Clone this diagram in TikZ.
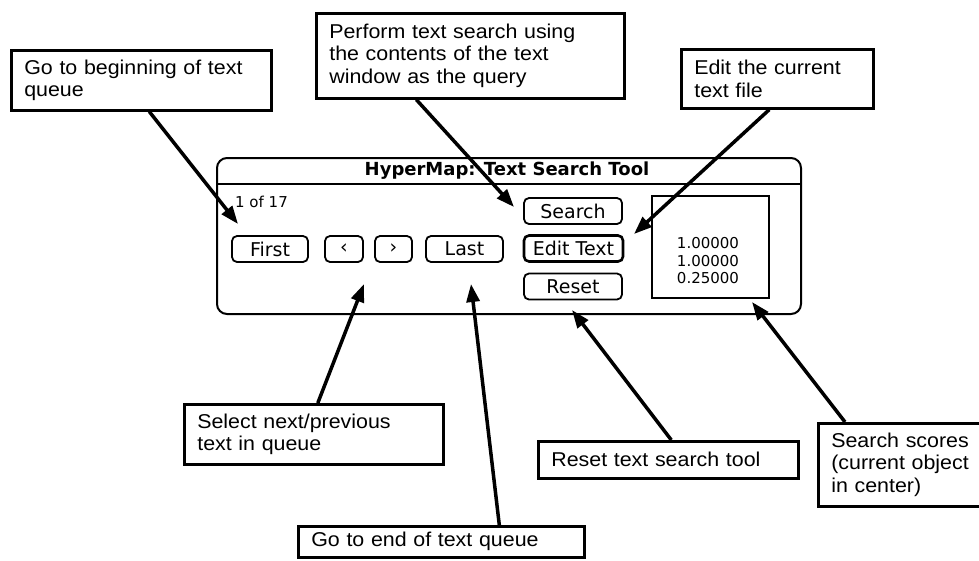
\documentclass[tikz,border=0pt]{standalone}
\usepackage{fontspec}
\setmainfont{Liberation Sans}[FakeStretch=1.07]
\newfontfamily\macfont{DejaVu Sans}
\usetikzlibrary{arrows.meta}

\begin{document}
\begin{tikzpicture}[
        x=1pt, y=-1pt,
        callout/.style={draw, rectangle, line width=2.6pt, anchor=north west, align=left,
            inner xsep=13pt, inner ysep=3pt, font=\fontsize{20}{22.5}\selectfont},
        button/.style={draw, rounded corners=5pt, line width=1.8pt, minimum height=26pt,
            inner sep=2pt, font=\macfont\fontsize{19}{22}\selectfont},
        pointer/.style={draw, -{Triangle[length=18pt,width=13pt]}, line width=3.5pt}
    ]
        \useasboundingbox (0,0) rectangle (979,560);

        % Window
        \node (win) [draw, rounded corners=10pt, line width=2pt, anchor=north west,
            minimum width=584pt, minimum height=156pt] at (216,157) {};
        \draw[line width=2pt] (216,184) -- (800,184);
        \node (title) [font=\macfont\bfseries\fontsize{18}{20}\selectfont] at (507,171) {HyperMap: Text Search Tool};
        \node (count) [anchor=west, inner sep=0pt, font=\macfont\fontsize{15}{18}\selectfont] at (235,202) {1 of 17};

        % Buttons
        \node (first) [button, minimum width=76pt] at (270,249) {First};
        \node (prev) [button, minimum width=38pt] at (344,249) {‹};
        \node (next) [button, minimum width=37pt] at (393.5,249) {›};
        \node (last) [button, minimum width=77pt] at (464.5,249) {Last};
        \node (search) [button, minimum width=98pt] at (573,211) {Search};
        \node (edit) [button, line width=2.6pt, minimum width=99pt] at (573.5,248.5) {Edit Text};
        \node (reset) [button, minimum width=98pt] at (573,286.5) {Reset};
        \node (scores) [draw, line width=1.8pt, minimum width=117pt, minimum height=102pt] at (710.5,247) {};
        \node (vals) [align=center, inner sep=0pt, font=\macfont\fontsize{15}{17.5}\selectfont] at (708,261) {1.00000\\1.00000\\0.25000};

        % Callouts
        \node (gofirst) [callout, text width=234pt, minimum height=60pt] at (10,49) {Go to beginning of text\\queue};
        \node (dosearch) [callout, text width=282pt, minimum height=85pt] at (315,12) {Perform text search using\\the contents of the text\\window as the query};
        \node (doedit) [callout, text width=166pt, minimum height=59pt] at (680,48) {Edit the current\\text file};
        \node (select) [callout, text width=233pt, minimum height=60pt] at (183,403) {Select next/previous\\text in queue};
        \node (golast) [callout, text width=260pt, minimum height=31pt] at (297,525) {Go to end of text queue};
        \node (doreset) [callout, text width=234pt, minimum height=37pt] at (537,440) {Reset text search tool};
        \node (showscores) [callout, text width=150pt, minimum height=83pt] at (817,422) {Search scores\\(current object\\in center)};

        % Arrow tips
        \coordinate (tfirst) at (238,224);
        \coordinate (tsearch) at (514,207);
        \coordinate (tedit) at (634,234);
        \coordinate (tprev) at (364,284);
        \coordinate (tlast) at (471,284);
        \coordinate (treset) at (572,310);
        \coordinate (tscores) at (752,302);

        % Arrows
        \path[pointer] ([xshift=8pt]gofirst.south) -- (tfirst);
        \path[pointer] ([xshift=-54pt]dosearch.south) -- (tsearch);
        \path[pointer] ([xshift=-8pt]doedit.south) -- (tedit);
        \path[pointer] ([xshift=4pt]select.north) -- (tprev);
        \path[pointer] ([xshift=58pt]golast.north) -- (tlast);
        \path[pointer] ([xshift=3pt]doreset.north) -- (treset);
        \path[pointer] ([xshift=28pt]showscores.north west) -- (tscores);
    \end{tikzpicture}
\end{document}
